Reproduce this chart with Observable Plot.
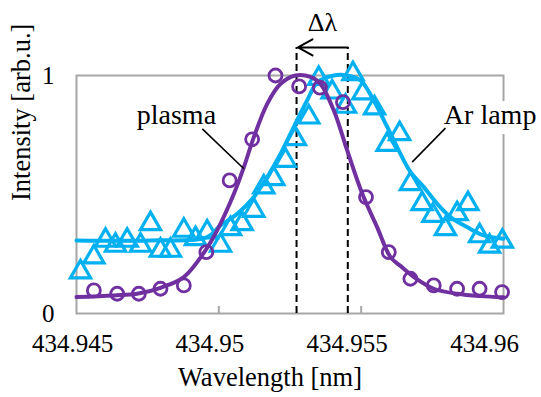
<!DOCTYPE html>
<html><head><meta charset="utf-8">
<script src="https://cdn.jsdelivr.net/npm/d3@7"></script>
<script src="https://cdn.jsdelivr.net/npm/@observablehq/plot@0.6"></script>
<style>
body{margin:0;background:#fff}
#chart svg, #chart svg text {font-family: "Liberation Serif", "Times New Roman", serif !important;}
</style>
</head><body><div id="chart"></div>
<script>
// Measured plasma points (circles)
const plasmaWl = [434.94561,434.94643,434.94719,434.94795,434.94877,434.94956,434.95038,434.95117,434.95199,434.95282,434.95355,434.95436,434.95517,434.95597,434.95673,434.95755,434.95837,434.95916,434.95995];
const plasmaI  = [0.097,0.083,0.083,0.104,0.118,0.258,0.559,0.732,1.000,0.954,0.949,0.888,0.489,0.258,0.146,0.118,0.104,0.104,0.090];
// Measured Ar lamp points (triangles)
const arWl = [434.94514,434.94561,434.94602,434.94637,434.94678,434.94725,434.9476,434.94795,434.9483,434.94877,434.94918,434.94959,434.95006,434.95041,434.95082,434.95123,434.95158,434.95193,434.95234,434.95269,434.95316,434.95351,434.95398,434.95445,434.95471,434.95506,434.95547,434.95591,434.95635,434.95673,434.95714,434.95752,434.95796,434.95837,434.95875,434.95916,434.95951,434.95996];
const arI  = [0.174,0.237,0.307,0.286,0.307,0.286,0.377,0.265,0.265,0.349,0.314,0.342,0.286,0.356,0.377,0.433,0.531,0.566,0.643,0.734,0.825,0.987,0.930,0.870,1.007,0.926,0.863,0.710,0.755,0.545,0.461,0.412,0.356,0.419,0.461,0.326,0.282,0.303];
// Fitted curves
const plasmaFitWl = [434.945,434.9463,434.94713,434.94795,434.94877,434.94953,434.94994,434.95053,434.95088,434.95123,434.9517,434.95217,434.95269,434.95322,434.95357,434.95404,434.95451,434.95504,434.95556,434.95603,434.95638,434.95697,434.95755,434.95837,434.95919,434.96];
const plasmaFitI  = [0.069,0.076,0.083,0.108,0.153,0.265,0.349,0.503,0.615,0.741,0.881,0.965,1.0,0.994,0.965,0.853,0.685,0.503,0.363,0.237,0.200,0.143,0.104,0.083,0.073,0.068];
const arFitWl = [434.945,434.9476,434.94959,434.95006,434.95065,434.95123,434.9517,434.95217,434.95263,434.9531,434.95346,434.95404,434.95451,434.95498,434.95544,434.95592,434.95638,434.95673,434.9572,434.95767,434.95814,434.95872,434.95931,434.96];
const arFitI  = [0.307,0.307,0.321,0.370,0.419,0.489,0.573,0.671,0.783,0.895,0.971,1.0,1.0,0.979,0.895,0.783,0.671,0.595,0.531,0.461,0.405,0.363,0.328,0.314];
// Ticks
const xTicks = [434.945, 434.95, 434.955, 434.96];
const xTickLabels = ["434.945", "434.95", "434.955", "434.96"];
const xInnerTicks = [434.95, 434.955];
const yTicks = [0, 1];
const yTickLabels = ["0", "1"];
// Annotations
const peakWl = [434.95273, 434.95453];
const arrowLevel = 1.118;
const deltaLabel = ["Δλ"];
const deltaX = [434.95364];
const deltaY = [1.224];
const seriesNames = ["plasma", "Ar lamp"];
const seriesLabelX = [434.94851, 434.95953];
const seriesLabelY = [0.836, 0.836];
const leaderX1 = [434.94942, 434.95796];
const leaderY1 = [0.776, 0.779];
const leaderX2 = [434.95088, 434.95679];
const leaderY2 = [0.608, 0.636];
const xLabel = "Wavelength [nm]";
const yLabel = "Intensity [arb.u.]";

const purple = "#7030A0", cyan = "#00B0F0", gray = "#a6a6a6";
const serif = "Liberation Serif";

const zip = (xs, ys) => xs.map((x, i) => ({x, y: ys[i]}));
const plasmaPts = zip(plasmaWl, plasmaI);
const arPts = zip(arWl, arI);
const plasmaFit = zip(plasmaFitWl, plasmaFitI);
const arFit = zip(arFitWl, arFitI);
const labels = seriesNames.map((t, i) => ({t, x: seriesLabelX[i], y: seriesLabelY[i]}));
const leaders = seriesNames.map((t, i) => ({x1: leaderX1[i], y1: leaderY1[i], x2: leaderX2[i], y2: leaderY2[i]}));

const chart = Plot.plot({
  width: 541, height: 397,
  marginLeft: 76, marginRight: 38, marginTop: 75, marginBottom: 84,
  x: {domain: [434.945, 434.96]},
  y: {domain: [0, 1]},
  style: {background: "white", overflow: "visible", color: "black"},
  marks: [
    Plot.frame({stroke: gray, strokeWidth: 2}),
    Plot.axisX(xInnerTicks, {tickSize: -7, stroke: gray, strokeWidth: 2, tickFormat: () => "", label: null}),
    ...xTicks.map((t, i) => Plot.axisX([t], {tickSize: 0, tickPadding: 21, dx: -4 - 5 * i, fontSize: 25, fontFamily: serif, fill: "black",
      tickFormat: d => xTickLabels[xTicks.indexOf(d)], label: null})),
    Plot.axisY(yTicks, {tickSize: 0, tickPadding: 22, fontSize: 25, fontFamily: serif, fill: "black",
      tickFormat: d => yTickLabels[yTicks.indexOf(d)], label: null}),
    Plot.text([xLabel], {frameAnchor: "bottom", lineAnchor: "middle", dy: 64, dx: -20, fontSize: 26.5, fontFamily: serif, fill: "black", text: d => d}),
    Plot.text([yLabel], {frameAnchor: "left", lineAnchor: "middle", rotate: -90, dx: -54.6, dy: 6.5, fontSize: 26.5, fontFamily: serif, fill: "black", text: d => d}),
    // dashed peak markers
    Plot.ruleX(peakWl, {x: d => d, y1: 0, y2: arrowLevel, stroke: "black", strokeWidth: 2, strokeDasharray: "7,4"}),
    Plot.arrow([0], {x1: peakWl[1], x2: peakWl[0] + 0.00005, y1: arrowLevel, y2: arrowLevel, stroke: "black", strokeWidth: 2, headLength: 17, headAngle: 58}),
    Plot.text(deltaLabel, {x: deltaX, y: deltaY, text: d => d, fontSize: 26, fontFamily: serif, fill: "black"}),
    // data
    Plot.dot(arPts, {x: "x", y: "y", symbol: "triangle", r: 7.5, stroke: cyan, strokeWidth: 3.2, fill: "none"}),
    Plot.line(arFit, {x: "x", y: "y", stroke: cyan, strokeWidth: 4, curve: "catmull-rom"}),
    Plot.dot(plasmaPts, {x: "x", y: "y", symbol: "circle", r: 6.5, stroke: purple, strokeWidth: 2.8, fill: "none"}),
    Plot.line(plasmaFit, {x: "x", y: "y", stroke: purple, strokeWidth: 4, curve: "catmull-rom"}),
    // labels
    Plot.text(labels, {x: "x", y: "y", text: "t", fontSize: 28, fontFamily: serif, fill: "black", stroke: "white", strokeWidth: 20, strokeLinejoin: "round"}),
    Plot.link(leaders, {x1: "x1", y1: "y1", x2: "x2", y2: "y2", stroke: "black", strokeWidth: 1.6})
  ]
});
document.getElementById("chart").appendChild(chart);
</script>
</body></html>
